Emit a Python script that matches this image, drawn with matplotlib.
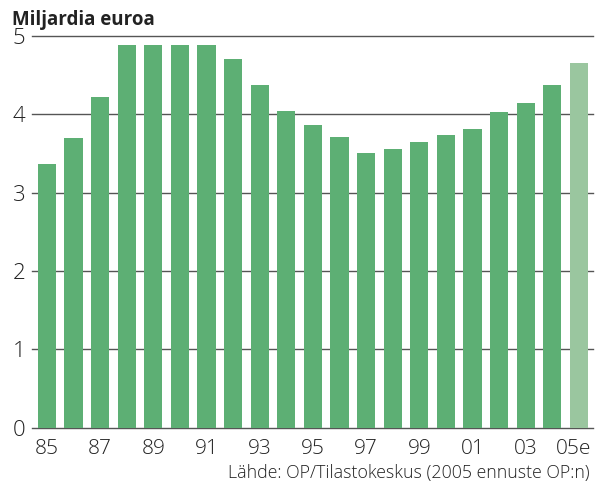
import matplotlib
matplotlib.use("Agg")
import matplotlib.pyplot as plt
import matplotlib.transforms as mtransforms

years = ["85", "86", "87", "88", "89", "90", "91", "92", "93", "94", "95",
         "96", "97", "98", "99", "00", "01", "02", "03", "04", "05e"]
values = [3.36, 3.70, 4.22, 4.89, 4.89, 4.89, 4.89, 4.71, 4.37, 4.04, 3.86,
          3.71, 3.51, 3.56, 3.65, 3.74, 3.81, 4.03, 4.15, 4.38, 4.65]
forecast = [False] * 20 + [True]
yticks = [0, 1, 2, 3, 4, 5]
title = "Miljardia euroa"
source = "Lähde: OP/Tilastokeskus (2005 ennuste OP:n)"

plt.rcParams['font.family'] = ['Open Sans', 'DejaVu Sans']

fig = plt.figure(figsize=(5.95, 4.91), dpi=100)
ax = fig.add_axes([32/595, 63.5/491, (593-32)/595, (427.5-36)/491])

x = list(range(len(years)))
colors = ["#9ac69f" if f else "#5daf74" for f in forecast]
ax.bar(x, values, width=0.68, color=colors, zorder=2)

ax.set_ylim(0, 5)
ax.set_xlim(-0.56, len(years) - 1 + 0.53)
ax.set_yticks(yticks)
ax.set_yticklabels([str(t) for t in yticks], fontsize=16, color="#222222",
                   fontweight="light")
for t in yticks:
    ax.axhline(t, color="#555555", lw=1.0, zorder=1, clip_on=False)

ax.set_xticks(x[::2])
ax.set_xticklabels(years[::2], fontsize=15, color="#222222", fontweight="light")
ax.tick_params(axis="both", length=0)
ax.tick_params(axis="x", pad=8)
ax.tick_params(axis="y", pad=14)
for lab in ax.get_yticklabels():
    lab.set_horizontalalignment("left")
last = ax.get_xticklabels()[-1]
last.set_transform(last.get_transform() +
                   mtransforms.ScaledTranslation(-5/100, 0, fig.dpi_scale_trans))
for s in ax.spines.values():
    s.set_visible(False)

fig.text(12/595, 1 - 20/491, title, fontsize=13.5, fontweight="bold",
         color="#222222", va="center", ha="left")
fig.text(590/595, 1 - 473/491, source, fontsize=12.8, color="#222222",
         fontweight="light", va="center", ha="right")

fig.savefig("out.png", dpi=100)
